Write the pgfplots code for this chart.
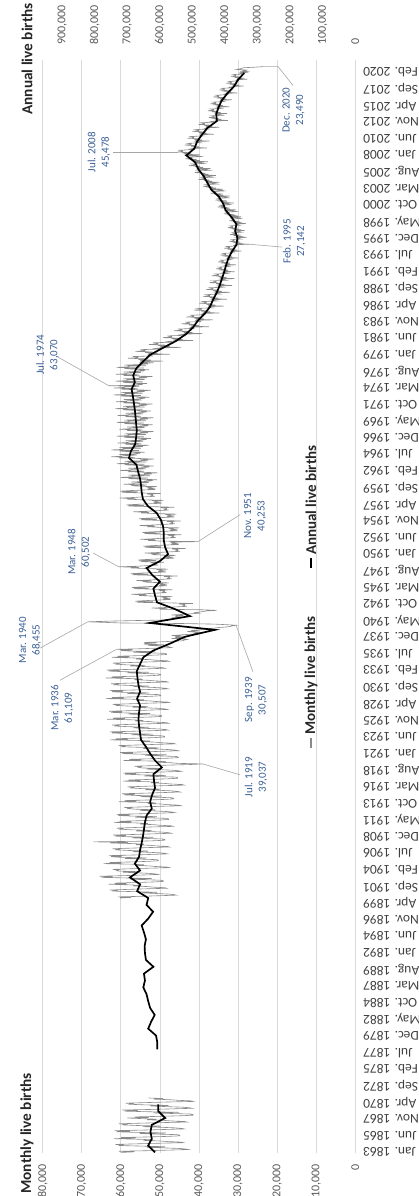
\documentclass[border=0pt]{standalone}
\usepackage{pgfplots}
\pgfplotsset{compat=1.18}
\usepackage{fontspec}
\setmainfont{Carlito}
\definecolor{gridc}{HTML}{D9D9D9}
\definecolor{tickc}{HTML}{595959}
\definecolor{datec}{HTML}{404040}
\definecolor{monthc}{HTML}{8A8A8A}
\definecolor{annc}{HTML}{3A5F96}
\definecolor{leadc}{HTML}{A6A6A6}
\tikzset{
  annot/.style={rotate=90, align=center, font=\fontsize{11}{13.5}\selectfont, text=annc, inner sep=1pt},
  lead/.style={draw=leadc, line width=0.6pt},
}
\begin{document}
\begin{tikzpicture}
\useasboundingbox (0,0) rectangle (419pt,1196pt);
\begin{axis}[
  at={(42.7pt,43pt)}, anchor=south west,
  scale only axis, width=312.6pt, height=1093pt,
  x dir=reverse, xmin=0, xmax=80000, ymin=-1, ymax=1906.5,
  axis line style={draw=none},
  tick style={draw=none}, major tick length=0pt,
  xtick={0,10000,...,80000},
  scaled x ticks=false,
  /pgf/number format/fixed,
  /pgf/number format/1000 sep={,},
  /pgf/number format/assume math mode=true,
  xticklabel style={rotate=90, anchor=east, font=\fontsize{12}{13}\selectfont, text=tickc},
  xticklabel shift=8pt,
  xmajorgrids, grid style={gridc, line width=0.8pt},
  ytick={0,29,...,1885},
  yticklabels={Jan. 1863,Jun. 1865,Nov. 1867,Apr. 1870,Sep. 1872,Feb. 1875,Jul. 1877,Dec. 1879,May. 1882,Oct. 1884,Mar. 1887,Aug. 1889,Jan. 1892,Jun. 1894,Nov. 1896,Apr. 1899,Sep. 1901,Feb. 1904,Jul. 1906,Dec. 1908,May. 1911,Oct. 1913,Mar. 1916,Aug. 1918,Jan. 1921,Jun. 1923,Nov. 1925,Apr. 1928,Sep. 1930,Feb. 1933,Jul. 1935,Dec. 1937,May. 1940,Oct. 1942,Mar. 1945,Aug. 1947,Jan. 1950,Jun. 1952,Nov. 1954,Apr. 1957,Sep. 1959,Feb. 1962,Jul. 1964,Dec. 1966,May. 1969,Oct. 1971,Mar. 1974,Aug. 1976,Jan. 1979,Jun. 1981,Nov. 1983,Apr. 1986,Sep. 1988,Feb. 1991,Jul. 1993,Dec. 1995,May. 1998,Oct. 2000,Mar. 2003,Aug. 2005,Jan. 2008,Jun. 2010,Nov. 2012,Apr. 2015,Sep. 2017,Feb. 2020},
  yticklabel pos=right,
  yticklabel style={anchor=east, xshift=7.7pt, inner sep=0pt, rotate=180, font=\fontsize{13.5}{14}\selectfont, text=datec},
  clip mode=individual,
  unbounded coords=jump,
]
\addplot[monthc, line width=0.6pt] table[row sep=\\, header=false, x index=0, y expr=\lineno] {
59900\\56600\\60500\\53300\\47900\\42700\\43400\\45300\\49300\\53300\\48700\\54700\\
60200\\59600\\61400\\56000\\50600\\44000\\44600\\48200\\50000\\54200\\51800\\55400\\
61700\\56300\\59900\\53300\\47900\\44900\\44900\\45500\\50900\\55100\\48500\\56300\\
61000\\57700\\61600\\54400\\49000\\43800\\44500\\46400\\50400\\54400\\49800\\55800\\
59300\\58700\\60500\\55100\\49700\\43100\\43700\\47300\\49100\\53300\\50900\\54500\\
58300\\52900\\56500\\49900\\44500\\41500\\41500\\42100\\47500\\51700\\45100\\52900\\
59000\\55700\\59600\\52400\\47000\\41800\\42500\\44400\\48400\\52400\\47800\\53800\\
57600\\57000\\58800\\53400\\48000\\41400\\42000\\45600\\47400\\51600\\49200\\52800\\
nan\\nan\\nan\\nan\\nan\\nan\\nan\\nan\\nan\\nan\\nan\\nan\\
nan\\nan\\nan\\nan\\nan\\nan\\nan\\nan\\nan\\nan\\nan\\nan\\
nan\\nan\\nan\\nan\\nan\\nan\\nan\\nan\\nan\\nan\\nan\\nan\\
nan\\nan\\nan\\nan\\nan\\nan\\nan\\nan\\nan\\nan\\nan\\nan\\
nan\\nan\\nan\\nan\\nan\\nan\\nan\\nan\\nan\\nan\\nan\\nan\\
nan\\nan\\nan\\nan\\nan\\nan\\nan\\nan\\nan\\nan\\nan\\nan\\
nan\\nan\\nan\\nan\\nan\\nan\\nan\\nan\\nan\\nan\\nan\\nan\\
nan\\nan\\nan\\nan\\nan\\nan\\nan\\nan\\nan\\nan\\nan\\nan\\
nan\\nan\\nan\\nan\\nan\\nan\\nan\\nan\\nan\\nan\\nan\\nan\\
nan\\nan\\nan\\nan\\nan\\nan\\nan\\nan\\nan\\nan\\nan\\nan\\
nan\\nan\\nan\\nan\\nan\\nan\\nan\\nan\\nan\\nan\\nan\\nan\\
nan\\nan\\nan\\nan\\nan\\nan\\nan\\nan\\nan\\nan\\nan\\nan\\
nan\\nan\\nan\\nan\\nan\\nan\\nan\\nan\\nan\\nan\\nan\\nan\\
nan\\nan\\nan\\nan\\nan\\nan\\nan\\nan\\nan\\nan\\nan\\nan\\
nan\\nan\\nan\\nan\\nan\\nan\\nan\\nan\\nan\\nan\\nan\\nan\\
nan\\nan\\nan\\nan\\nan\\nan\\nan\\nan\\nan\\nan\\nan\\nan\\
nan\\nan\\nan\\nan\\nan\\nan\\nan\\nan\\nan\\nan\\nan\\nan\\
nan\\nan\\nan\\nan\\nan\\nan\\nan\\nan\\nan\\nan\\nan\\nan\\
nan\\nan\\nan\\nan\\nan\\nan\\nan\\nan\\nan\\nan\\nan\\nan\\
nan\\nan\\nan\\nan\\nan\\nan\\nan\\nan\\nan\\nan\\nan\\nan\\
nan\\nan\\nan\\nan\\nan\\nan\\nan\\nan\\nan\\nan\\nan\\nan\\
nan\\nan\\nan\\nan\\nan\\nan\\nan\\nan\\nan\\nan\\nan\\nan\\
nan\\nan\\nan\\nan\\nan\\nan\\nan\\nan\\nan\\nan\\nan\\nan\\
nan\\nan\\nan\\nan\\nan\\nan\\nan\\nan\\nan\\nan\\nan\\nan\\
nan\\nan\\nan\\nan\\nan\\nan\\nan\\nan\\nan\\nan\\nan\\nan\\
nan\\nan\\nan\\nan\\nan\\nan\\nan\\nan\\nan\\nan\\nan\\nan\\
nan\\nan\\nan\\nan\\nan\\nan\\nan\\nan\\nan\\nan\\nan\\nan\\
nan\\nan\\nan\\nan\\nan\\nan\\nan\\nan\\nan\\nan\\nan\\nan\\
nan\\nan\\nan\\nan\\nan\\nan\\nan\\nan\\nan\\nan\\nan\\nan\\
60200\\57400\\60700\\54700\\50200\\45800\\46400\\48000\\51300\\54700\\50800\\55800\\
61800\\61300\\62800\\58300\\53800\\48300\\48800\\51800\\53300\\56800\\54800\\57800\\
63100\\58600\\61600\\56100\\51600\\49100\\49100\\49600\\54100\\57600\\52100\\58600\\
64900\\62100\\65400\\59400\\54900\\50500\\51100\\52700\\56000\\59400\\55500\\60500\\
61100\\60600\\62100\\57600\\53100\\47600\\48100\\51100\\52600\\56100\\54100\\57100\\
64400\\59900\\62900\\57400\\52900\\50400\\50400\\50900\\55400\\58900\\53400\\59900\\
62500\\59700\\63000\\57000\\52500\\48100\\48700\\50300\\53600\\57000\\53100\\58100\\
61100\\60600\\62100\\57600\\53100\\47600\\48100\\51100\\52600\\56100\\54100\\57100\\
62700\\58200\\67000\\55700\\51200\\48700\\48700\\49200\\53700\\57200\\51700\\58200\\
61500\\58700\\62000\\56000\\51500\\47100\\47700\\49300\\52600\\56000\\52100\\57100\\
60100\\59600\\61100\\56600\\52100\\46600\\47100\\50100\\51600\\55100\\53100\\56100\\
61800\\57300\\60300\\54800\\50300\\47800\\47800\\48300\\52800\\56300\\50800\\57300\\
60600\\57800\\61100\\55100\\50600\\46200\\46800\\48400\\51700\\55100\\51200\\56200\\
58100\\57600\\59100\\54600\\50100\\44600\\45100\\48100\\49600\\53100\\51100\\54100\\
60500\\56000\\59000\\53500\\49000\\46500\\46500\\47000\\51500\\55000\\49500\\56000\\
59200\\56400\\59700\\53700\\49200\\44800\\45400\\47000\\50300\\53700\\49800\\54800\\
57300\\56800\\58300\\53800\\49300\\43800\\44300\\47300\\48800\\52300\\50300\\53300\\
59500\\55000\\58000\\52500\\48000\\45500\\45500\\46000\\50500\\54000\\48500\\55000\\
58900\\56100\\59400\\53400\\48900\\44500\\45100\\46700\\50000\\53400\\49500\\54500\\
55500\\55000\\56500\\52000\\47500\\42000\\39037\\45500\\47000\\50500\\48500\\51500\\
59300\\54800\\57800\\52300\\47800\\45300\\45300\\45800\\50300\\53800\\48300\\54800\\
59700\\56900\\60200\\54200\\49700\\45300\\45900\\47500\\50800\\54200\\50300\\55300\\
59600\\59100\\60600\\56100\\51600\\46100\\46600\\49600\\51100\\54600\\52600\\55600\\
62800\\58300\\61300\\55800\\51300\\48800\\48800\\49300\\53800\\57300\\51800\\58300\\
62300\\59500\\62800\\56800\\52300\\47900\\48500\\50100\\53400\\56800\\52900\\57900\\
61300\\60800\\62300\\57800\\53300\\47800\\48300\\51300\\52800\\56300\\54300\\57300\\
63500\\59000\\62000\\56500\\52000\\49500\\49500\\50000\\54500\\58000\\52500\\59000\\
62500\\59700\\63000\\57000\\52500\\48100\\48700\\50300\\53600\\57000\\53100\\58100\\
61100\\60600\\62100\\57600\\53100\\47600\\48100\\51100\\52600\\56100\\54100\\57100\\
63800\\59300\\62300\\56800\\52300\\49800\\49800\\50300\\54800\\58300\\52800\\59300\\
62300\\59500\\62800\\56800\\52300\\47900\\48500\\50100\\53400\\56800\\52900\\57900\\
61500\\61000\\62500\\58000\\53500\\48000\\48500\\51500\\53000\\56500\\54500\\57500\\
63800\\59300\\62300\\56800\\52300\\49800\\49800\\50300\\54800\\58300\\52800\\59300\\
63100\\60300\\63600\\57600\\53100\\48700\\49300\\50900\\54200\\57600\\53700\\58700\\
61100\\60600\\62100\\57600\\53100\\47600\\48100\\51100\\52600\\56100\\54100\\57100\\
62300\\57800\\60800\\55300\\50800\\48300\\48300\\48800\\53300\\56800\\51300\\57800\\
60000\\57000\\61109\\55000\\51000\\47000\\47500\\48000\\50500\\53000\\49000\\54000\\
54000\\51000\\54000\\50000\\47000\\44000\\44000\\43000\\44000\\47000\\43000\\46000\\
46000\\44000\\47000\\45000\\43000\\40000\\41000\\40000\\41000\\43000\\40000\\42000\\
40000\\37000\\38000\\36000\\35000\\33000\\32000\\31500\\30507\\33000\\36000\\44000\\
60000\\64000\\68455\\64000\\58000\\50000\\48000\\47000\\46000\\47000\\44000\\46000\\
46000\\44000\\47000\\44000\\42000\\40000\\41000\\40000\\39000\\38000\\35500\\39000\\
50100\\48100\\52100\\48600\\46100\\43100\\44100\\43600\\43600\\45100\\41600\\47100\\
55800\\51800\\56300\\53800\\50300\\47300\\49300\\47800\\48800\\49300\\46800\\52300\\
55300\\53300\\57300\\53800\\51300\\48300\\49300\\48800\\48800\\50300\\46800\\52300\\
56700\\52700\\57200\\54700\\51200\\48200\\50200\\48700\\49700\\50200\\47700\\53200\\
54000\\52000\\56000\\52500\\50000\\47000\\48000\\47500\\47500\\49000\\45500\\51000\\
57000\\53000\\57500\\55000\\51500\\48500\\50500\\49000\\50000\\50500\\48000\\53500\\
57400\\55400\\60502\\55900\\53400\\50400\\51400\\50900\\50900\\52400\\48900\\54400\\
55000\\51000\\55500\\53000\\49500\\46500\\48500\\47000\\48000\\48500\\46000\\51500\\
51900\\49900\\53900\\50400\\47900\\44900\\45900\\45400\\45400\\46900\\43400\\48900\\
53700\\49700\\54200\\51700\\48200\\45200\\47200\\45700\\46700\\47200\\40253\\50200\\
53000\\51000\\55000\\51500\\49000\\46000\\47000\\46500\\46500\\48000\\44500\\50000\\
54000\\50000\\54500\\52000\\48500\\45500\\47500\\46000\\47000\\47500\\45000\\50500\\
53200\\51200\\55200\\51700\\49200\\46200\\47200\\46700\\46700\\48200\\44700\\50200\\
54800\\50800\\55300\\52800\\49300\\46300\\48300\\46800\\47800\\48300\\45800\\51300\\
54800\\52800\\56800\\53300\\50800\\47800\\48800\\48300\\48300\\49800\\46300\\51800\\
58100\\54100\\58600\\56100\\52600\\49600\\51600\\50100\\51100\\51600\\49100\\54600\\
58300\\56300\\60300\\56800\\54300\\51300\\52300\\51800\\51800\\53300\\49800\\55300\\
59700\\55700\\60200\\57700\\54200\\51200\\53200\\51700\\52700\\53200\\50700\\56200\\
57300\\53300\\59300\\56800\\56300\\52800\\57300\\53300\\52300\\53300\\50800\\54800\\
58100\\53100\\60100\\57100\\57100\\52600\\58100\\54100\\52100\\54100\\50600\\54100\\
58100\\54100\\60100\\57600\\57100\\53600\\58100\\54100\\53100\\54100\\51600\\55600\\
59000\\54000\\61000\\58000\\58000\\53500\\59000\\55000\\53000\\55000\\51500\\55000\\
60400\\56400\\62400\\59900\\59400\\55900\\60400\\56400\\55400\\56400\\53900\\57900\\
60400\\55400\\62400\\59400\\59400\\54900\\60400\\56400\\54400\\56400\\52900\\56400\\
58800\\54800\\60800\\58300\\57800\\54300\\58800\\54800\\53800\\54800\\52300\\56300\\
59100\\54100\\61100\\58100\\58100\\53600\\59100\\55100\\53100\\55100\\51600\\55100\\
58400\\54400\\60400\\57900\\57400\\53900\\58400\\54400\\53400\\54400\\51900\\55900\\
59100\\54100\\61100\\58100\\58100\\53600\\59100\\55100\\53100\\55100\\51600\\55100\\
58800\\54800\\60800\\58300\\57800\\54300\\58800\\54800\\53800\\54800\\52300\\56300\\
59400\\54400\\61400\\58400\\58400\\53900\\59400\\55400\\53400\\55400\\51900\\55400\\
59200\\55200\\61200\\58700\\58200\\54700\\59200\\55200\\54200\\55200\\52700\\56700\\
59900\\54900\\61900\\58900\\58900\\54400\\59900\\55900\\53900\\55900\\52400\\55900\\
59800\\55800\\61800\\59300\\58800\\55300\\63070\\55800\\54800\\55800\\53300\\57300\\
59400\\54400\\61400\\58400\\58400\\53900\\59400\\55400\\53400\\55400\\51900\\55400\\
59300\\55300\\61300\\58800\\58300\\54800\\59300\\55300\\54300\\55300\\52800\\56800\\
59100\\54100\\61100\\58100\\58100\\53600\\59100\\55100\\53100\\55100\\51600\\55100\\
55000\\49100\\55000\\52400\\55600\\53700\\58200\\55600\\55600\\56900\\51700\\53000\\
53100\\47500\\53100\\50600\\53800\\51900\\56300\\53800\\53800\\55000\\50000\\51200\\
49900\\44600\\49900\\47500\\50500\\48700\\52800\\50500\\50500\\51700\\46900\\48100\\
46500\\41500\\46500\\44200\\47000\\45300\\49200\\47000\\47000\\48100\\43700\\44800\\
43800\\39100\\43800\\41700\\44300\\42800\\46400\\44300\\44300\\45400\\41200\\42300\\
42000\\37500\\42000\\40000\\42500\\41000\\44500\\42500\\42500\\43500\\39500\\40500\\
40800\\36400\\40800\\38800\\41300\\39800\\43200\\41300\\41300\\42200\\38400\\39300\\
39000\\34800\\39000\\37100\\39400\\38000\\41300\\39400\\39400\\40300\\36700\\37600\\
37600\\33600\\37600\\35900\\38100\\36800\\39900\\38100\\38100\\39000\\35400\\36300\\
36800\\32900\\36800\\35100\\37300\\36000\\39000\\37300\\37300\\38100\\34700\\35500\\
35900\\32100\\35900\\34200\\36400\\35100\\38100\\36400\\36400\\37200\\33800\\34600\\
35200\\31500\\35200\\33500\\35600\\34400\\37300\\35600\\35600\\36500\\33100\\34000\\
34600\\30900\\34600\\33000\\35000\\33800\\36700\\35000\\35000\\35800\\32600\\33400\\
33900\\30900\\33900\\32600\\34300\\33300\\35600\\34300\\34300\\34900\\32300\\32900\\
33400\\30500\\33400\\32100\\33800\\32800\\35100\\33800\\33800\\34400\\31800\\32400\\
32800\\29900\\32800\\31500\\33200\\32200\\34500\\33200\\33200\\33800\\31200\\31800\\
31900\\29100\\31900\\30700\\32200\\31300\\33500\\32200\\32200\\32900\\30300\\31000\\
30700\\27142\\30700\\29500\\31000\\30100\\32200\\31000\\31000\\31600\\29200\\29800\\
30500\\27800\\30500\\29300\\30800\\29900\\32000\\30800\\30800\\31400\\29000\\29600\\
31100\\28300\\31100\\29900\\31400\\30500\\32600\\31400\\31400\\32000\\29600\\30200\\
30700\\28000\\30700\\29500\\31000\\30100\\32200\\31000\\31000\\31600\\29200\\29800\\
32000\\29200\\32000\\30700\\32300\\31400\\33600\\32300\\32300\\33000\\30400\\31100\\
33500\\30500\\33500\\32200\\33900\\32900\\35200\\33900\\33900\\34500\\31900\\32500\\
34100\\31100\\34100\\32800\\34500\\33500\\35800\\34500\\34500\\35100\\32500\\33100\\
35200\\32100\\35200\\33900\\35600\\34600\\37000\\35600\\35600\\36300\\33500\\34200\\
37200\\33900\\37200\\35700\\37500\\36400\\39000\\37500\\37500\\38300\\35300\\36100\\
38200\\34800\\38200\\36700\\38600\\37400\\40100\\38600\\38600\\39300\\36300\\37000\\
39200\\35700\\39200\\37600\\39600\\38400\\41100\\39600\\39600\\40400\\37200\\38000\\
40600\\37000\\40600\\39000\\41000\\39800\\42600\\41000\\41000\\41800\\38600\\39400\\
41400\\37700\\41400\\39800\\41800\\40600\\43500\\41800\\41800\\42600\\39400\\40200\\
43700\\39800\\43700\\42000\\44200\\42900\\45478\\44200\\44200\\45000\\41600\\42400\\
41600\\37900\\41600\\40000\\42000\\40800\\43700\\42000\\42000\\42800\\39600\\40400\\
40900\\37300\\40900\\39300\\41300\\40100\\42900\\41300\\41300\\42100\\38900\\39700\\
39700\\36200\\39700\\38100\\40100\\38900\\41700\\40100\\40100\\40900\\37700\\38500\\
38200\\34800\\38200\\36700\\38600\\37400\\40100\\38600\\38600\\39300\\36300\\37000\\
35800\\32600\\35800\\34300\\36100\\35000\\37500\\36100\\36100\\36800\\34000\\34700\\
36000\\32800\\36000\\34500\\36300\\35200\\37700\\36300\\36300\\37000\\34200\\34900\\
35400\\32200\\35400\\33900\\35700\\34600\\37100\\35700\\35700\\36400\\33600\\34300\\
34500\\31500\\34500\\33200\\34900\\33900\\36300\\34900\\34900\\35600\\32800\\33500\\
33100\\30200\\33100\\31800\\33500\\32500\\34800\\33500\\33500\\34100\\31500\\32100\\
31400\\28600\\31400\\30200\\31700\\30800\\33000\\31700\\31700\\32300\\29900\\30500\\
30300\\27600\\30300\\29100\\30600\\29700\\31800\\30600\\30600\\31200\\28800\\29400\\
29600\\27400\\29500\\27600\\28600\\28000\\30400\\29400\\29100\\28500\\25600\\23490\\
};
\draw[lead] (axis cs:23490,1895) -- (axis cs:19780,1895) -- (axis cs:15940,1862);
\node[annot] at (axis cs:15820,1819) {Dec. 2020\\23,490};
\draw[lead] (axis cs:45478,1746) -- (axis cs:62000,1746);
\node[annot] at (axis cs:65600,1746) {Jul. 2008\\45,478};
\draw[lead] (axis cs:27142,1585) -- (axis cs:18760,1580);
\node[annot] at (axis cs:15600,1590) {Feb. 1995\\27,142};
\draw[lead] (axis cs:63070,1338) -- (axis cs:76080,1388);
\node[annot] at (axis cs:78800,1392) {Jul. 1974\\63,070};
\draw[lead] (axis cs:40253,1066) -- (axis cs:29500,1113);
\node[annot] at (axis cs:25670,1111) {Nov. 1951\\40,253};
\draw[lead] (axis cs:60502,1022) -- (axis cs:67100,1046);
\node[annot] at (axis cs:70700,1048) {Mar. 1948\\60,502};
\draw[lead] (axis cs:68455,926) -- (axis cs:80700,880);
\node[annot] at (axis cs:83250,894) {Mar. 1940\\68,455};
\draw[lead] (axis cs:61109,878) -- (axis cs:75600,824);
\node[annot] at (axis cs:75060,776) {Mar. 1936\\61,109};
\draw[lead] (axis cs:30507,920) -- (axis cs:26200,839);
\node[annot] at (axis cs:25400,790) {Sep. 1939\\30,507};
\draw[lead] (axis cs:39037,678) -- (axis cs:29500,659);
\node[annot] at (axis cs:25400,655) {Jul. 1919\\39,037};
\end{axis}
\begin{axis}[
  at={(42.7pt,43pt)}, anchor=south west,
  scale only axis, width=312.6pt, height=1093pt,
  x dir=reverse, xmin=0, xmax=960000, ymin=-1, ymax=1906.5,
  axis line style={draw=none},
  tick style={draw=none}, major tick length=0pt,
  xtick={0,100000,...,900000},
  scaled x ticks=false,
  /pgf/number format/fixed,
  /pgf/number format/1000 sep={,},
  /pgf/number format/assume math mode=true,
  xticklabel pos=upper,
  xticklabel style={rotate=90, anchor=west, font=\fontsize{12}{13}\selectfont, text=tickc},
  xticklabel shift=12pt,
  ytick=\empty,
]
\addplot[black, line width=1.7pt] coordinates {
(615000,0) (636000,12) (625000,24) (629000,36) (625000,48) (584000,60) (605000,72) (605000,84)
};
\addplot[black, line width=1.7pt] coordinates {
(608000,180) (608000,192) (612000,204) (636000,216) (627000,228) (616000,240) (630000,252) (636000,264)
(641000,276) (651000,288) (646000,300) (649000,312) (620000,324) (643000,336) (646000,348) (647000,360)
(643000,372) (649000,384) (656000,396) (636000,408) (621000,420) (641000,432) (636000,444) (670000,456)
(661000,468) (692000,480) (661000,492) (677000,504) (664000,516) (661000,528) (656000,540) (652000,552)
(649000,564) (646000,576) (641000,588) (625000,600) (630000,612) (624000,624) (615000,636) (618000,648)
(620000,660) (594000,672) (615000,684) (630000,696) (643000,708) (658000,720) (661000,732) (664000,744)
(666000,756) (664000,768) (661000,780) (670000,792) (661000,804) (666000,816) (669000,828) (671000,840)
(661000,852) (651000,864) (620000,876) (569000,888) (523000,900) (431000,912) (631000,924) (508000,936)
(553000,948) (609000,960) (615000,972) (620000,984) (600000,996) (624000,1008) (641000,1020) (600000,1032)
(575000,1044) (584000,1056) (588000,1068) (588000,1080) (590000,1092) (597000,1104) (610000,1116) (637000,1128)
(652000,1140) (656000,1152) (658000,1164) (661000,1176) (667000,1188) (672000,1200) (695000,1212) (689000,1224)
(676000,1236) (673000,1248) (671000,1260) (673000,1272) (675000,1284) (677000,1296) (680000,1308) (683000,1320)
(687000,1332) (677000,1344) (682000,1356) (673000,1368) (652000,1380) (630000,1392) (591000,1404) (551000,1416)
(520000,1428) (498000,1440) (483000,1452) (462000,1464) (446000,1476) (437000,1488) (426000,1500) (417000,1512)
(410000,1524) (403000,1536) (397000,1548) (390000,1560) (379000,1572) (365000,1584) (362000,1596) (369000,1608)
(365000,1620) (380000,1632) (398000,1644) (406000,1656) (419000,1668) (442000,1680) (454000,1692) (466000,1704)
(482000,1716) (492000,1728) (519000,1740) (494000,1752) (486000,1764) (471000,1776) (454000,1788) (425000,1800)
(427000,1812) (420000,1824) (410000,1836) (393000,1848) (373000,1860) (360000,1872) (341000,1884)
};
\end{axis}
% axis titles
\node[rotate=90, anchor=east, font=\bfseries\fontsize{15.3}{18}\selectfont, text=black!85, inner sep=0pt] at (27pt,1193pt) {Annual live births};
\node[rotate=90, anchor=east, font=\bfseries\fontsize{15.3}{18}\selectfont, text=black!85, inner sep=0pt] at (27pt,123pt) {Monthly live births};
% legend
\draw[monthc, line width=1.2pt] (311pt,448pt) -- (311pt,458pt);
\node[rotate=90, anchor=west, font=\bfseries\fontsize{15}{18}\selectfont, text=black!85, inner sep=1pt] at (311pt,460pt) {Monthly live births};
\draw[black, line width=1.7pt] (311pt,628pt) -- (311pt,638pt);
\node[rotate=90, anchor=west, font=\bfseries\fontsize{15}{18}\selectfont, text=black!85, inner sep=1pt] at (311pt,640pt) {Annual live births};
\end{tikzpicture}
\end{document}
